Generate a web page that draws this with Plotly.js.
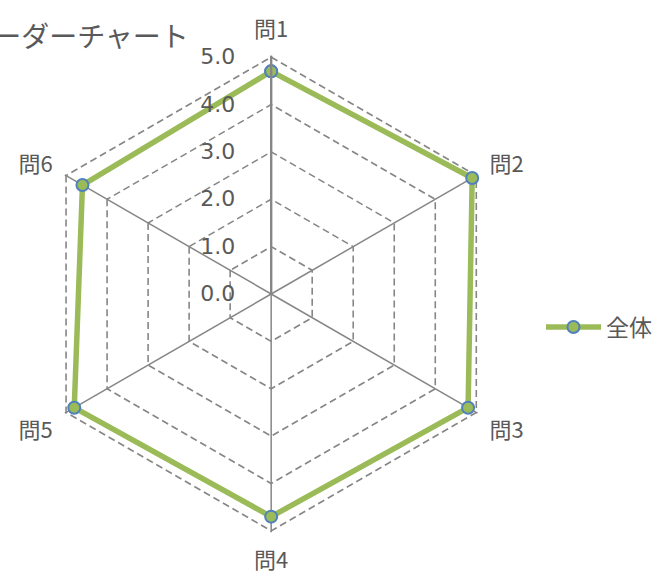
<!DOCTYPE html>
<html>
<head>
<meta charset="utf-8">
<script src="https://cdn.plot.ly/plotly-3.0.1.min.js"></script>
<style>html,body{margin:0;padding:0;background:#fff;}#chart{width:657px;height:573px;}</style>
</head>
<body>
<div id="chart"></div>
<script>
const categories = ["問1", "問2", "問3", "問4", "問5", "問6"];
const values = [4.7, 4.9, 4.8, 4.7, 4.8, 4.6];
const seriesName = "全体";
const radialTicks = [0, 1, 2, 3, 4, 5];
const radialTickText = ["0.0", "1.0", "2.0", "3.0", "4.0", "5.0"];
const chartTitle = "レーダーチャート";

const FONT = "'Noto Sans CJK JP', 'Noto Sans', sans-serif";
const NUMFONT = "'DejaVu Sans', 'Noto Sans CJK JP', sans-serif";
const GRAY = "#595959";
const GRID = "#868686";

const trace = {
  type: "scatterpolar",
  r: values.concat([values[0]]),
  theta: categories.concat([categories[0]]),
  mode: "lines+markers",
  name: seriesName,
  line: {color: "#9BBB59", width: 5.5},
  marker: {size: 12, color: "#9BBB59", line: {color: "#4F81BD", width: 2}},
  cliponaxis: false
};

const cx = 272, cy = 294, R = 239, W = 657, H = 573;

const layout = {
  width: W, height: H,
  margin: {l: 0, r: 0, t: 0, b: 0},
  paper_bgcolor: "#fff",
  font: {family: FONT, color: GRAY, size: 22},
  title: {text: chartTitle, font: {family: FONT, size: 28, color: GRAY},
          xref: "container", yref: "container", x: 77 / W, xanchor: "center",
          y: 1 - 37 / H, yanchor: "middle"},
  showlegend: true,
  legend: {x: 543 / W, xanchor: "left", y: 1 - 327 / H, yanchor: "middle",
           font: {family: FONT, size: 23, color: GRAY}, itemwidth: 55, bgcolor: "rgba(0,0,0,0)"},
  polar: {
    domain: {x: [(cx - R) / W, (cx + R) / W], y: [(H - cy - R) / H, (H - cy + R) / H]},
    gridshape: "linear",
    bgcolor: "rgba(0,0,0,0)",
    radialaxis: {
      range: [0, 5.03], tickvals: radialTicks, ticktext: radialTickText,
      angle: 90, tickangle: 90, side: "counterclockwise",
      showline: true, linecolor: GRID, linewidth: 2.4,
      gridcolor: GRID, griddash: "7px,4px", gridwidth: 1.6,
      ticks: "outside", ticklen: 27, tickcolor: "rgba(0,0,0,0)",
      tickfont: {family: NUMFONT, size: 22, color: GRAY}
    },
    angularaxis: {
      direction: "clockwise", rotation: 90,
      showline: false, gridcolor: GRID, gridwidth: 1.5,
      ticks: "outside", ticklen: 9, tickcolor: "rgba(0,0,0,0)",
      tickfont: {family: FONT, size: 22, color: GRAY}
    }
  }
};

Plotly.newPlot("chart", [trace], layout, {displayModeBar: false, staticPlot: true});
</script>
</body>
</html>
